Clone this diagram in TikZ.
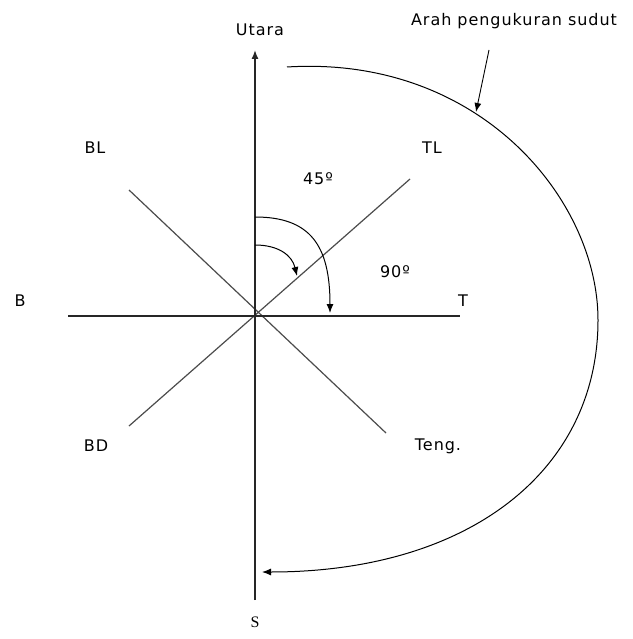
\documentclass[tikz,border=0pt]{standalone}
\usepackage{fontspec}
\setmainfont[LetterSpace=6]{DejaVu Sans}
\newfontfamily\serifs{Liberation Serif}
\usetikzlibrary{arrows.meta}
\begin{document}
\begin{tikzpicture}[x=1pt,y=-1pt,
  axis/.style={line width=1.4pt,black!85},
  diag/.style={line width=1.2pt,black!70},
  tip/.style={-{Latex[length=9pt,width=7pt]}},
  lbl/.style={font=\fontsize{16}{18}\selectfont,inner sep=0pt}]
\useasboundingbox[fill=white] (0,0) rectangle (632,639);
\coordinate (O) at (255,316);
\coordinate (N) at (255,50);
\coordinate (Sb) at (255,600);
\coordinate (W) at (68,316);
\coordinate (E) at (460,316);
\coordinate (NE) at (410,179);
\coordinate (SW) at (129,426);
\coordinate (NW) at (129,190);
\coordinate (SE) at (386,433);
\draw[diag] (NE) -- (SW);
\draw[diag] (NW) -- (SE);
\draw[axis] (W) -- (E);
\draw[axis,tip] (Sb) -- (N);
% labels
\node[lbl] (utara) at (260,30) {Utara};
\node[lbl] (s) at (255,622) {\serifs S};
\node[lbl] (b) at (20,301) {B};
\node[lbl] (t) at (463,301) {T};
\node[lbl] (bl) at (95,148) {BL};
\node[lbl] (tl) at (432,148) {TL};
\node[lbl] (bd) at (96,446) {BD};
\node[lbl] (teng) at (438,446) {Teng.};
\node[lbl] (d45) at (318,179) {45º};
\node[lbl] (d90) at (395,272) {90º};
\node[lbl] (arah) at (514,21) {Arah pengukuran sudut};
% measurement arcs
\coordinate (a1s) at (255,217);
\coordinate (a1e) at (330,313);
\coordinate (a2s) at (255,245);
\coordinate (a2e) at (297,276);
\draw[line width=1pt,tip] (a1s) .. controls (310,217) and (330,245) .. (a1e);
\draw[line width=1pt,tip] (a2s) .. controls (278,245) and (292,255) .. (a2e);
% big arc
\coordinate (bs) at (287,67);
\coordinate (be) at (262,572);
\draw[line width=1pt,tip] (bs) .. controls (480,55) and (598,200) .. (598,320)
  .. controls (598,470) and (470,572) .. (be);
\coordinate (ps) at (489,50);
\coordinate (pe) at (476,112);
\draw[line width=0.9pt,tip] (ps) -- (pe);
\end{tikzpicture}
\end{document}
